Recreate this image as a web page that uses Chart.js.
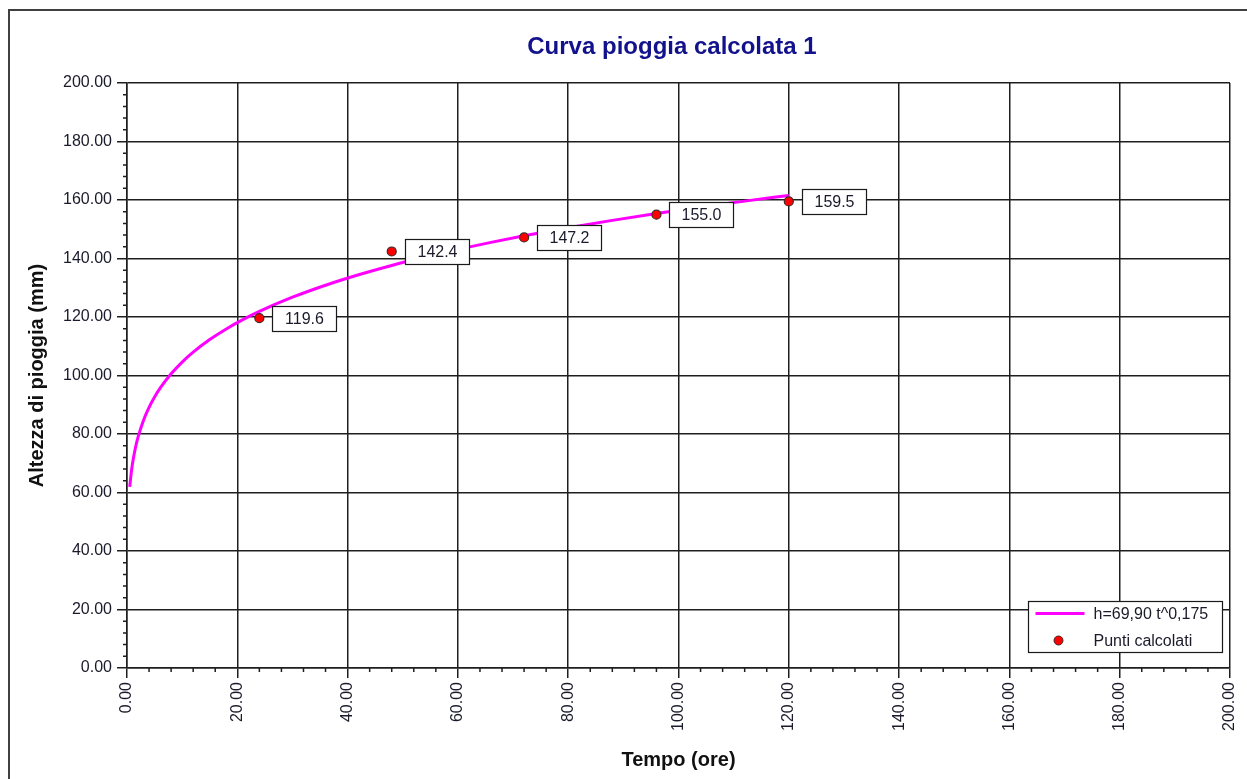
<!DOCTYPE html>
<html>
<head>
<meta charset="utf-8">
<script src="https://cdn.jsdelivr.net/npm/chart.js@4.4.1/dist/chart.umd.min.js"></script>
<style>
html,body{margin:0;padding:0;background:#fff;}
canvas{display:block;}
</style>
</head>
<body>
<canvas id="c" width="1247" height="779"></canvas>
<script>
const chartTitle = 'Curva pioggia calcolata 1';
const xTitle = 'Tempo (ore)';
const yTitle = 'Altezza di pioggia (mm)';
const curveLabel = 'h=69,90 t^0,175';
const pointsLabel = 'Punti calcolati';

const curveT = [0.5,0.75,1,1.5,2,3,4,5,6,8,10,12,15,18,21,24,30,36,42,48,54,60,66,72,80,88,96,104,112,120];
const curveH = [61.92,66.47,69.90,75.04,78.91,84.72,89.09,92.64,95.65,100.58,104.59,107.97,112.28,115.92,119.09,121.91,126.76,130.87,134.45,137.63,140.49,143.11,145.52,147.75,150.50,153.03,155.37,157.57,159.62,161.56];

const pointT = [24,48,72,96,120];
const pointH = [119.6,142.4,147.2,155.0,159.5];
const pointLabels = ['119.6','142.4','147.2','155.0','159.5'];

const axisMin = 0, axisMax = 200, majorStep = 20, minorStep = 4;

const FONT = "'Liberation Sans', Arial, Helvetica, sans-serif";
const GRID = '#1e1e1e';
const TEXT = '#1a1a2a';

const curveData = curveT.map((t,i)=>({x:t,y:curveH[i]}));
const pointData = pointT.map((t,i)=>({x:t,y:pointH[i]}));

const framePlugin = {
  id:'frame',
  beforeDraw(chart){
    const ctx = chart.ctx;
    ctx.save();
    ctx.fillStyle='#fff';
    ctx.fillRect(0,0,chart.width,chart.height);
    ctx.strokeStyle='#404040';
    ctx.lineWidth=2;
    ctx.strokeRect(9,10,chart.width+20,chart.height+20);
    ctx.font = 'bold 24px ' + FONT;
    ctx.fillStyle = '#12128c';
    ctx.textAlign = 'center';
    ctx.textBaseline = 'middle';
    ctx.fillText(chartTitle, 672, 47);
    ctx.restore();
  }
};

const minorTicksPlugin = {
  id:'minorTicks',
  afterDraw(chart){
    const ctx = chart.ctx;
    const xs = chart.scales.x, ys = chart.scales.y;
    const a = chart.chartArea;
    ctx.save();
    ctx.strokeStyle=GRID;
    ctx.lineWidth=1.5;
    ctx.beginPath();
    for(let v=axisMin; v<=axisMax; v+=minorStep){
      if(v % majorStep === 0) continue;
      const px = xs.getPixelForValue(v);
      ctx.moveTo(px, a.bottom); ctx.lineTo(px, a.bottom+4);
      const py = ys.getPixelForValue(v);
      ctx.moveTo(a.left, py); ctx.lineTo(a.left-4, py);
    }
    ctx.stroke();
    ctx.restore();
  }
};

const labelsPlugin = {
  id:'pointLabels',
  afterDatasetsDraw(chart){
    const ctx = chart.ctx;
    const meta = chart.getDatasetMeta(1);
    ctx.save();
    ctx.font = '16px ' + FONT;
    ctx.textAlign='center';
    ctx.textBaseline='middle';
    meta.data.forEach((el,i)=>{
      const bx = Math.round(el.x + 13) + 0.5, by = Math.round(el.y - 12.5) + 0.5;
      const w = 64, h = 25;
      ctx.fillStyle='#fff';
      ctx.fillRect(bx,by,w,h);
      ctx.strokeStyle='#1a1a1a';
      ctx.lineWidth=1.2;
      ctx.strokeRect(bx,by,w,h);
      ctx.fillStyle=TEXT;
      ctx.fillText(pointLabels[i], bx + w/2, by + h/2 + 1);
    });
    ctx.restore();
  }
};

const legendPlugin = {
  id:'boxLegend',
  afterDraw(chart){
    const ctx = chart.ctx;
    const a = chart.chartArea;
    const w = 194, h = 51;
    const x = Math.round(a.right - 8 - w) + 0.5, y = Math.round(a.bottom - 16 - h) + 0.5;
    ctx.save();
    ctx.fillStyle='#fff';
    ctx.fillRect(x,y,w,h);
    ctx.strokeStyle='#1a1a1a';
    ctx.lineWidth=1.2;
    ctx.strokeRect(x,y,w,h);
    const ds0 = chart.data.datasets[0], ds1 = chart.data.datasets[1];
    ctx.strokeStyle = ds0.borderColor;
    ctx.lineWidth = 3;
    ctx.beginPath();
    ctx.moveTo(x+7, y+12); ctx.lineTo(x+56, y+12);
    ctx.stroke();
    ctx.beginPath();
    ctx.arc(x+30, y+39, 4.5, 0, Math.PI*2);
    ctx.fillStyle = ds1.backgroundColor;
    ctx.fill();
    ctx.lineWidth = 1;
    ctx.strokeStyle = ds1.borderColor;
    ctx.stroke();
    ctx.font = '16px ' + FONT;
    ctx.fillStyle = TEXT;
    ctx.textAlign='left';
    ctx.textBaseline='middle';
    ctx.fillText(ds0.label, x+65, y+13);
    ctx.fillText(ds1.label, x+65, y+40);
    ctx.restore();
  }
};

function tickFmt(v){ return Number(v).toFixed(2); }

new Chart(document.getElementById('c'), {
  type:'line',
  data:{
    datasets:[
      {
        type:'line',
        label: curveLabel,
        data: curveData,
        borderColor:'#ff00ff',
        backgroundColor:'#ff00ff',
        borderWidth:3,
        pointRadius:0,
        cubicInterpolationMode:'monotone',
        fill:false,
        order:2
      },
      {
        type:'scatter',
        label: pointsLabel,
        data: pointData,
        backgroundColor:'#ff0000',
        borderColor:'#3a2a2a',
        borderWidth:1.2,
        pointRadius:4.5,
        showLine:false,
        order:1
      }
    ]
  },
  options:{
    responsive:false,
    animation:false,
    events:[],
    layout:{padding:{left:0,right:17,top:83,bottom:0}},
    plugins:{
      legend:{display:false},
      tooltip:{enabled:false},
      title:{display:false}
    },
    scales:{
      x:{
        type:'linear',
        position:'bottom',
        min:axisMin, max:axisMax,
        afterFit(s){ s.height = 111; s.paddingLeft = 0; s.paddingRight = 0; },
        ticks:{
          stepSize:majorStep,
          autoSkip:false,
          minRotation:90, maxRotation:90,
          padding:4,
          color:TEXT,
          font:{family:FONT,size:16},
          callback:tickFmt
        },
        grid:{color:GRID, lineWidth:1.5, tickLength:10, tickColor:GRID},
        border:{display:true, color:GRID, width:1.5},
        title:{display:true, text:xTitle, color:'#111', font:{family:FONT,size:20,weight:'bold'}, padding:{top:0,bottom:7}}
      },
      y:{
        type:'linear',
        position:'left',
        min:axisMin, max:axisMax,
        afterFit(s){ s.width = 127; s.paddingTop = 0; s.paddingBottom = 0; },
        ticks:{
          stepSize:majorStep,
          padding:5,
          color:TEXT,
          font:{family:FONT,size:16},
          callback:tickFmt
        },
        grid:{color:GRID, lineWidth:1.5, tickLength:10, tickColor:GRID},
        border:{display:true, color:GRID, width:1.5},
        title:{display:true, text:yTitle, color:'#111', font:{family:FONT,size:20,weight:'bold'}, padding:{top:25,bottom:0}}
      }
    }
  },
  plugins:[framePlugin, minorTicksPlugin, labelsPlugin, legendPlugin]
});
</script>
</body>
</html>
